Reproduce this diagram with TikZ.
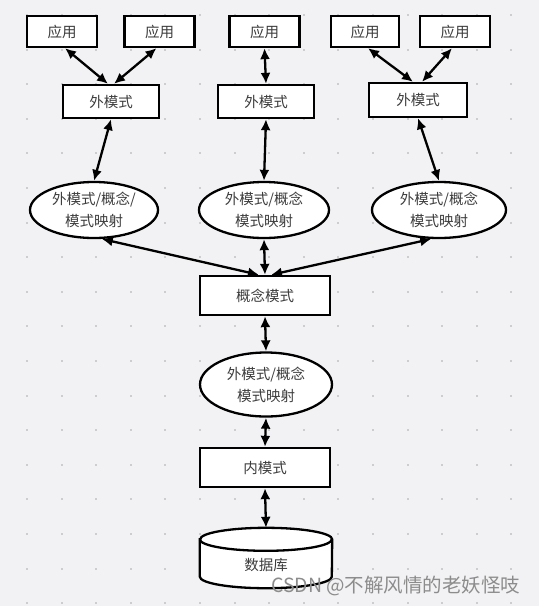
\documentclass[tikz,border=0pt]{standalone}
\usepackage{fontspec}
\setmainfont{Noto Sans CJK SC}
\usetikzlibrary{arrows.meta,shapes.geometric}
\definecolor{bgc}{RGB}{242,242,244}
\definecolor{dotc}{RGB}{205,205,208}
\definecolor{txtc}{RGB}{60,60,60}
\begin{document}
\begin{tikzpicture}[x=1pt,y=-1pt,
  box/.style={draw, line width=2.3pt, fill=white, text=txtc, font=\fontsize{14.5}{16}\selectfont, inner sep=0pt},
  ell/.style={ellipse, draw, line width=2.3pt, fill=white, text=txtc, inner sep=0pt, align=center, font=\fontsize{14.5}{22}\selectfont},
  link/.style={{Latex[length=11pt,width=10pt]}-{Latex[length=11pt,width=10pt]}, line width=2.3pt}]
\fill[bgc] (0,0) rectangle (539,606);
\useasboundingbox (0,0) rectangle (539,606);
\foreach \i in {0,...,14}
  \foreach \j in {0,...,17}
    \fill[dotc] ({26+34.6*\i},{14+34.6*\j}) rectangle ++(2,2);
% applications
\node[box, minimum width=70pt, minimum height=31pt] (app1) at (62,31.5){应用};
\node[box, minimum width=70pt, minimum height=31pt] (app2) at (159.5,31.5){应用};
\node[box, minimum width=70pt, minimum height=31pt] (app3) at (264.5,31.5){应用};
\node[box, minimum width=68pt, minimum height=31pt] (app4) at (365,31.5){应用};
\node[box, minimum width=70pt, minimum height=31pt] (app5) at (455,31.5){应用};
% external schemas
\node[box, minimum width=96pt, minimum height=33pt] (wai1) at (111,101.5){外模式};
\node[box, minimum width=96pt, minimum height=33pt] (wai2) at (266,101.5){外模式};
\node[box, minimum width=98pt, minimum height=34pt] (wai3) at (418,100){外模式};
\draw[link] ([xshift=3pt]app1.south) -- ([xshift=-3pt]wai1.north);
\draw[link] ([xshift=-3pt]app2.south) -- ([xshift=3pt]wai1.north);
\draw[link] (app3.south) -- (wai2.north);
\draw[link] ([xshift=3pt]app4.south) -- ([xshift=-5pt]wai3.north);
\draw[link] ([xshift=-3pt]app5.south) -- ([xshift=4pt]wai3.north);
% mappings
\node[ell, minimum width=128pt, minimum height=56pt] (ys1) at (94,210){外模式/概念/\\模式映射};
\node[ell, minimum width=130pt, minimum height=56pt] (ys2) at (264,210){外模式/概念\\模式映射};
\node[ell, minimum width=134pt, minimum height=56pt] (ys3) at (439,210){外模式/概念\\模式映射};
\draw[link] (wai1.south) -- (ys1.north);
\draw[link] (wai2.south) -- (ys2.north);
\draw[link] (wai3.south) -- (ys3.north);
% conceptual schema
\node[box, minimum width=130pt, minimum height=39pt] (gn) at (265,295.5){概念模式};
\draw[link] (ys1.-75) -- ([xshift=-6pt]gn.north);
\draw[link] (ys2.south) -- (gn.north);
\draw[link] (ys3.-105) -- ([xshift=6pt]gn.north);
\node[ell, minimum width=132pt, minimum height=64pt] (ys4) at (266,384.5){外模式/概念\\模式映射};
\draw[link] (gn.south) -- (ys4.north);
% internal schema
\node[box, minimum width=130pt, minimum height=39pt] (nei) at (265,467.5){内模式};
\draw[link] (ys4.south) -- (nei.north);
% database
\node[minimum width=132pt, minimum height=60pt, inner sep=0pt] (db) at (266,558){};
\draw[line width=2.3pt, fill=white] ([yshift=-11.5pt]db.north west) -- ([yshift=11.5pt]db.south west)
  arc[start angle=180, end angle=360, x radius=66pt, y radius=11.5pt] -- ([yshift=-11.5pt]db.north east)
  arc[start angle=0, end angle=180, x radius=66pt, y radius=11.5pt] -- cycle;
\draw[line width=2.3pt] ([yshift=-11.5pt]db.north west) arc[start angle=180, end angle=360, x radius=66pt, y radius=11.5pt];
\node[text=txtc, font=\fontsize{14.5}{16}\selectfont] (dbtxt) at (266,565){数据库};
\draw[link] (nei.south) -- (db.north);
\node[text=black!45, font=\fontsize{19.5}{21}\selectfont, anchor=east] (mark) at (524,586){CSDN @不解风情的老妖怪吱};
\end{tikzpicture}
\end{document}
